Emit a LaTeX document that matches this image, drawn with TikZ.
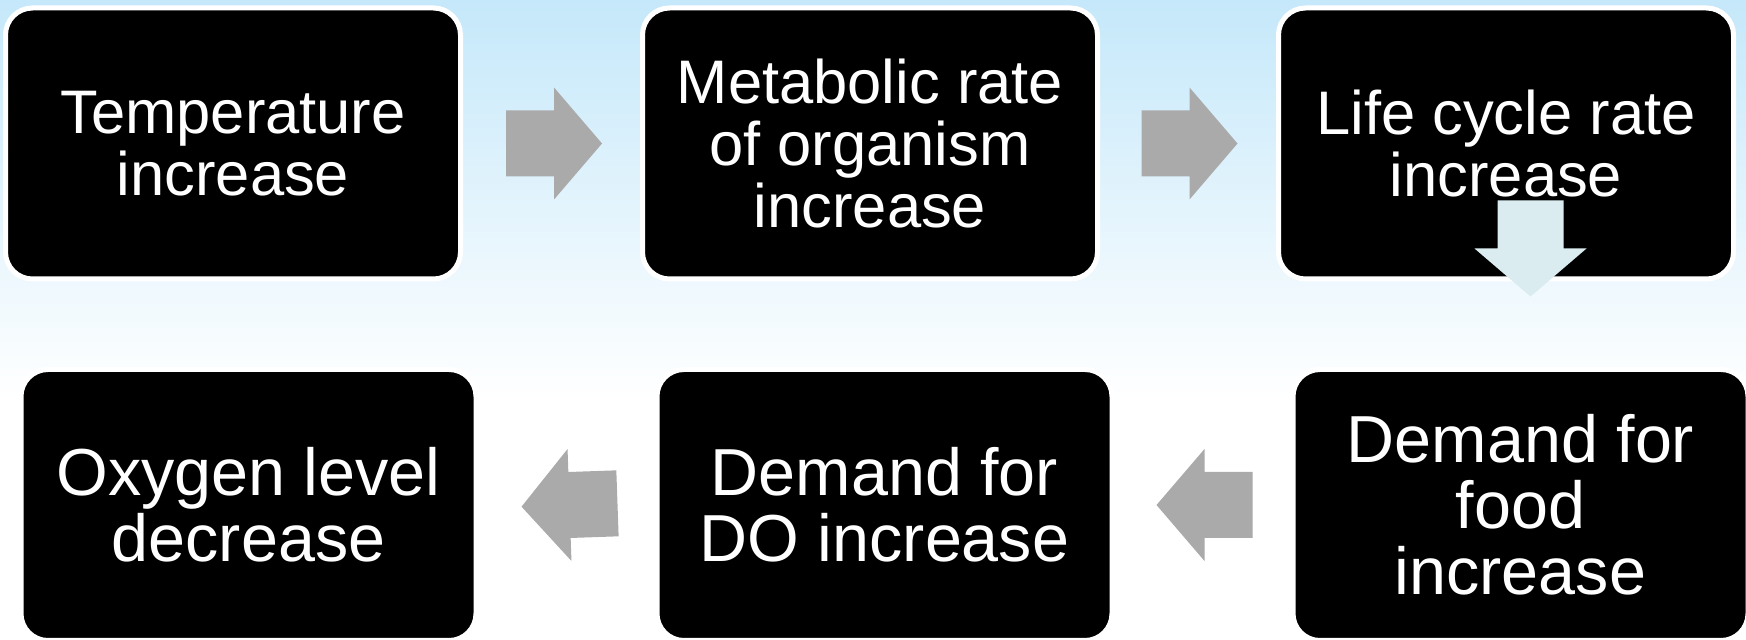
\documentclass[tikz,border=0pt]{standalone}
\usepackage{fontspec}
\setmainfont{Liberation Sans}
\usetikzlibrary{calc}

\definecolor{skytop}{RGB}{197,232,250}
\definecolor{arrowgray}{RGB}{170,170,170}
\definecolor{arrowpale}{RGB}{218,236,239}

\tikzset{
  stage/.style={rounded corners=27pt, fill=black, draw=white, line width=5pt,
    minimum width=455pt, minimum height=271pt, inner sep=0pt,
    text=white, align=center},
  toprow/.style={font=\fontsize{61.5}{62}\selectfont},
  lowrow/.style={font=\fontsize{66.5}{66}\selectfont},
  % block arrow, pointing right, centred on the head base
  pics/flowarrow/.style={code={
    \fill (-48,-33) -- (0,-33) -- (0,-56) -- (48,0) -- (0,56) -- (0,33) -- (-48,33) -- cycle;
  }}
}

\begin{document}
\begin{tikzpicture}[x=1pt, y=1pt]
% sky background
\fill[white] (0,0) rectangle (1746,640);
\shade[top color=skytop, bottom color=white] (0,240) rectangle (1746,640);
\useasboundingbox (0,0) rectangle (1746,640);

% top row
\node[stage, toprow] (temp) at (233,496.5) {Temperature\\increase};
\node[stage, toprow] (meta) at (870,496.5) {Metabolic rate\\of organism\\increase};
\node[stage, toprow] (cycle) at (1506,496.5) {Life cycle rate\\increase};
% bottom row
\node[stage, lowrow] (food) at (1520.5,135) {Demand for\\food\\increase};
\node[stage, lowrow] (dox) at (884.5,135) {Demand for\\DO increase};
\node[stage, lowrow] (oxy) at (248.5,135) {Oxygen level\\decrease};
%
\pic[arrowgray] at ($(temp.east)!0.5!(meta.west)+(2.5,0)$) {flowarrow};
\pic[arrowgray] at ($(meta.east)!0.5!(cycle.west)+(1.5,0)$) {flowarrow};
\pic[arrowpale, rotate=-90] at ($(cycle.south)+(24.5,33)$) {flowarrow};
\pic[arrowgray, rotate=180] at ($(food.west)!0.5!(dox.east)+(2,0)$) {flowarrow};
\pic[arrowgray, rotate=182] at ($(dox.west)!0.5!(oxy.east)+(3,0)$) {flowarrow};
\end{tikzpicture}
\end{document}
